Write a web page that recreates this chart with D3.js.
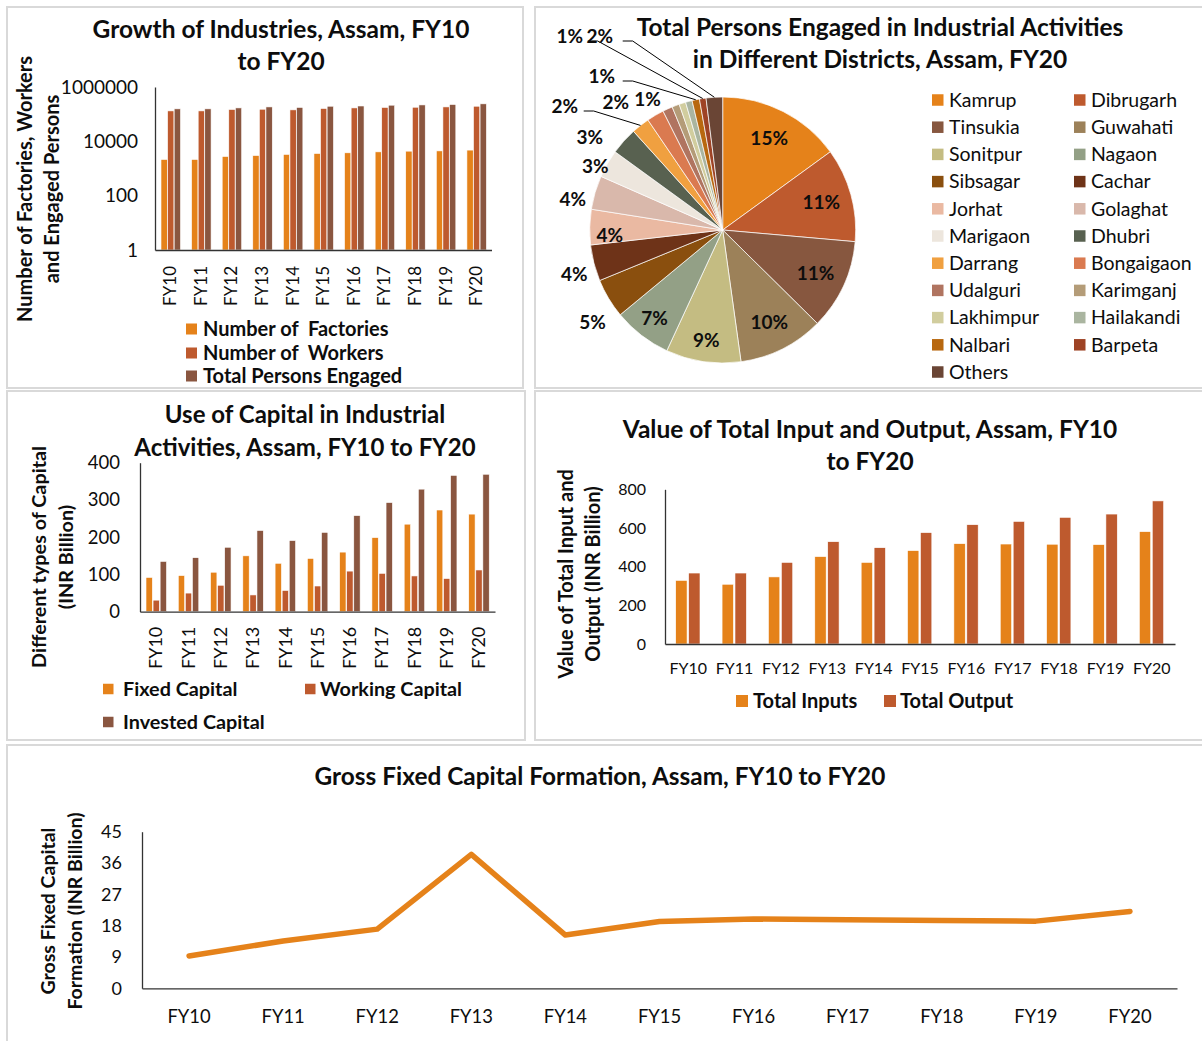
<!DOCTYPE html>
<html>
<head>
<meta charset="utf-8">
<script src="https://cdn.jsdelivr.net/npm/d3@7"></script>
<style>
    body { margin: 0; background: #fff; }
    svg text { font-family: Lato, "Open Sans", sans-serif; fill: #0d0d0d; }
</style>
</head>
<body>
<svg id="chart" width="1202" height="1041"></svg>
<script>

// ---- data ----
var years = ["FY10", "FY11", "FY12", "FY13", "FY14", "FY15", "FY16", "FY17", "FY18", "FY19", "FY20"];

var factories = [2150, 2150, 2770, 3000, 3300, 3570, 3780, 4100, 4350, 4450, 4760];
var workers = [132000, 132000, 149000, 152000, 144000, 162000, 170000, 177000, 180000, 185000, 196000];
var personsEngaged = [157000, 157000, 170000, 185000, 177000, 196000, 200000, 214000, 219000, 227000, 240000];
var logTicks = [1, 100, 10000, 1000000];

var districts = ["Kamrup", "Dibrugarh", "Tinsukia", "Guwahati", "Sonitpur", "Nagaon", "Sibsagar", "Cachar",
    "Jorhat", "Golaghat", "Marigaon", "Dhubri", "Darrang", "Bongaigaon", "Udalguri", "Karimganj",
    "Lakhimpur", "Hailakandi", "Nalbari", "Barpeta", "Others"];
var districtShare = [15.0, 11.4, 11.0, 10.4, 9.1, 7.1, 4.8, 4.4, 4.3, 4.1, 3.4, 3.3, 2.2, 2.1, 1.2, 0.9,
    0.8, 0.8, 0.9, 0.8, 2.0];

var fixedCapital = [92, 97, 106, 150, 130, 143, 160, 199, 235, 273, 262];
var workingCapital = [31, 50, 71, 45, 57, 69, 109, 103, 96, 89, 112];
var investedCapital = [135, 145, 173, 218, 191, 213, 258, 293, 329, 366, 369];
var capitalTicks = [0, 100, 200, 300, 400];

var totalInputs = [329, 309, 347, 452, 422, 483, 519, 517, 516, 514, 581];
var totalOutput = [367, 367, 422, 529, 498, 576, 617, 634, 655, 672, 740];
var ioTicks = [0, 200, 400, 600, 800];

var gfcf = [9.3, 13.6, 17.0, 38.5, 15.3, 19.2, 19.9, 19.7, 19.5, 19.3, 22.1];
var gfcfTicks = [0, 9, 18, 27, 36, 45];

// ---- colours ----
var orange = "#e5821a", rust = "#be5a2e", brown = "#8a5640";
var districtColors = ["#e5821a", "#be5a2e", "#87573f", "#9c8159", "#c4bc82", "#93a086", "#8a4f0e", "#6e3318",
    "#eab9a2", "#d9b8ab", "#ede6dd", "#586150", "#f0a040", "#da7a50", "#b07460", "#b49c78",
    "#d1cd9e", "#aab5a0", "#b8680f", "#9e4325", "#6a4535"];

var svg = d3.select("#chart");

function drawPanel(x, y, w, h) {
    svg.append("rect")
        .attr("x", x).attr("y", y)
        .attr("width", w).attr("height", h)
        .attr("fill", "#fff")
        .attr("stroke", "#d9d9d9")
        .attr("stroke-width", 2);
}

function addTitle(lines, cx, y0, gap, size) {
    lines.forEach(function (t, i) {
        svg.append("text")
            .attr("x", cx).attr("y", y0 + i * gap)
            .attr("dy", "0.35em")
            .attr("text-anchor", "middle")
            .style("font-size", size + "px")
            .style("font-weight", "bold")
            .text(t);
    });
}

function addYTitle(lines, xs, cy, size) {
    lines.forEach(function (t, i) {
        svg.append("text")
            .attr("transform", "translate(" + xs[i] + "," + cy + ") rotate(-90)")
            .attr("dy", "0.35em")
            .attr("text-anchor", "middle")
            .style("font-size", size + "px")
            .style("font-weight", "bold")
            .text(t);
    });
}

function addLegend(items, size, font) {
    items.forEach(function (d) {
        svg.append("rect")
            .attr("x", d.x).attr("y", d.y - size / 2)
            .attr("width", size).attr("height", size)
            .attr("fill", d.color);
        svg.append("text")
            .attr("x", d.x + d.gap).attr("y", d.y)
            .attr("dy", "0.35em")
            .style("font-size", font.size + "px")
            .style("font-weight", font.weight)
            .style("white-space", "pre")
            .text(d.label);
    });
}

function leftAxis(y, x, ticks, fontSize, pad) {
    var g = svg.append("g")
        .attr("transform", "translate(" + x + ",0)")
        .call(d3.axisLeft(y).tickValues(ticks).tickSize(0).tickPadding(pad).tickFormat(d3.format("d")));
    g.select(".domain").attr("stroke", "#333").attr("stroke-width", 1.3);
    g.selectAll("text").style("font-size", fontSize + "px").style("font-family", null).attr("fill", null);
    return g;
}

function bottomAxis(x, y, fontSize, pad, rotate) {
    var g = svg.append("g")
        .attr("transform", "translate(0," + y + ")")
        .call(d3.axisBottom(x).tickSize(0).tickSizeOuter(0));
    g.select(".domain").attr("stroke", "#333").attr("stroke-width", 1.3);
    var t = g.selectAll("text").style("font-size", fontSize + "px").style("font-family", null).attr("fill", null);
    if (rotate) {
        t.attr("transform", "rotate(-90)")
            .attr("text-anchor", "end")
            .attr("x", -pad).attr("y", 0)
            .attr("dy", "0.35em");
    } else {
        t.attr("y", pad).attr("dy", "0.35em");
    }
    return g;
}

function groupedBars(x, y, series, inner) {
    series.forEach(function (s, k) {
        svg.append("g").selectAll("rect")
            .data(s.values)
            .enter().append("rect")
            .attr("x", function (d, i) { return x(years[i]) + inner(k); })
            .attr("y", function (d) { return y(d); })
            .attr("width", inner.bandwidth())
            .attr("height", function (d) { return y.range()[0] - y(d); })
            .attr("fill", s.color)
            .attr("stroke", "#fff")
            .attr("stroke-width", 0.6);
    });
}

// ---- panels ----
drawPanel(7, 7, 516, 381);
drawPanel(535, 7, 680, 381);
drawPanel(7, 391, 518, 349);
drawPanel(535, 391, 680, 349);
drawPanel(7, 745, 1210, 310);

// ---- 1. growth of industries (log scale) ----
(function () {
    var x = d3.scaleBand().domain(years).range([155, 491.5]);
    var y = d3.scaleLog().domain([1, 1000000]).range([250, 87]);
    var inner = d3.scaleBand().domain([0, 1, 2]).range([6, 25.5]).paddingInner(0.04);

    addTitle(["Growth of Industries, Assam, FY10", "to FY20"], 281, 29, 32, 24.5);
    groupedBars(x, y, [
        { values: factories, color: orange },
        { values: workers, color: rust },
        { values: personsEngaged, color: brown }
    ], inner);
    leftAxis(y, 155, logTicks, 19, 17);
    bottomAxis(x, 250, 17, 16, true);
    addYTitle(["Number of Factories, Workers", "and Engaged Persons"], [25, 52], 189, 20);
    addLegend([
        { x: 186, y: 329, gap: 17, color: orange, label: "Number of  Factories" },
        { x: 186, y: 353, gap: 17, color: rust, label: "Number of  Workers" },
        { x: 186, y: 376, gap: 17, color: brown, label: "Total Persons Engaged" }
    ], 11, { size: 20, weight: "bold" });
})();

// ---- 2. district pie ----
(function () {
    var cx = 722.7, cy = 230, r = 133;
    var total = d3.sum(districtShare);
    var pie = d3.pie().sort(null).value(function (d) { return d; });
    var arcs = pie(districtShare);
    var arc = d3.arc().innerRadius(0).outerRadius(r);

    addTitle(["Total Persons Engaged in Industrial Activities", "in Different Districts, Assam, FY20"], 880, 27, 32, 24.5);

    var g = svg.append("g").attr("transform", "translate(" + cx + "," + cy + ")");
    g.selectAll("path")
        .data(arcs)
        .enter().append("path")
        .attr("d", arc)
        .attr("fill", function (d, i) { return districtColors[i]; })
        .attr("stroke", "#fff")
        .attr("stroke-width", 0.7);

    // where each label sits (Excel "best fit" placement)
    var place = {
        Kamrup: { k: 0.77 }, Dibrugarh: { k: 0.77 }, Tinsukia: { k: 0.77 }, Guwahati: { k: 0.78 },
        Sonitpur: { k: 0.84 }, Nagaon: { k: 0.84 }, Jorhat: { k: 0.85, da: -4 },
        Sibsagar: { k: 1.2, da: -4.4 }, Cachar: { k: 1.165, da: -2.4 }, Golaghat: { k: 1.15, da: -5 },
        Marigaon: { k: 1.07, da: -3.5 }, Dhubri: { k: 1.22, da: -7 }, Bongaigaon: { k: 1.25, da: -9.6 },
        Udalguri: { k: 1.13, da: -5.5 },
        Darrang: { lx: -158, ly: -124, ex: -129 },
        Nalbari: { lx: -121, ly: -154, ex: -90 },
        Barpeta: { lx: -153, ly: -194, ex: -125 },
        Others: { lx: -123, ly: -194, ex: -90 }
    };

    arcs.forEach(function (d, i) {
        var p = place[districts[i]];
        if (!p) return;
        var label = Math.round(d.value / total * 100) + "%";
        var mid = (d.startAngle + d.endAngle) / 2;
        var lx, ly;
        if (p.k) {
            var a = mid + (p.da || 0) * Math.PI / 180;
            lx = Math.sin(a) * r * p.k;
            ly = -Math.cos(a) * r * p.k;
        } else {
            lx = p.lx;
            ly = p.ly;
            var ax = Math.sin(mid) * r, ay = -Math.cos(mid) * r;
            g.append("polyline")
                .attr("points", [[p.ex - 10, ly + 5], [p.ex, ly + 5], [ax, ay]].map(function (q) { return q.join(","); }).join(" "))
                .attr("fill", "none")
                .attr("stroke", "#000")
                .attr("stroke-width", 1);
        }
        g.append("text")
            .attr("x", lx).attr("y", ly)
            .attr("dy", "0.35em")
            .attr("text-anchor", "middle")
            .style("font-size", "19px")
            .style("font-weight", "bold")
            .text(label);
    });

    var items = districts.map(function (name, i) {
        return {
            x: i % 2 === 0 ? 932 : 1074,
            y: 100 + Math.floor(i / 2) * 27.2,
            gap: 17,
            color: districtColors[i],
            label: name
        };
    });
    addLegend(items, 11.5, { size: 19.5, weight: "normal" });
})();

// ---- 3. use of capital ----
(function () {
    var x = d3.scaleBand().domain(years).range([140, 495]);
    var y = d3.scaleLinear().domain([0, 400]).range([611.7, 462.7]);
    var inner = d3.scaleBand().domain([0, 1, 2]).range([6, 26.5]).paddingInner(0.1);

    addTitle(["Use of Capital in Industrial", "Activities, Assam, FY10 to FY20"], 305, 415, 33, 24);
    groupedBars(x, y, [
        { values: fixedCapital, color: orange },
        { values: workingCapital, color: rust },
        { values: investedCapital, color: brown }
    ], inner);
    leftAxis(y, 140, capitalTicks, 18.5, 20);
    bottomAxis(x, 611.7, 18, 15, true);
    addYTitle(["Different types of Capital", "(INR Billion)"], [39, 66], 557, 19.8);
    addLegend([
        { x: 103, y: 689, gap: 20, color: orange, label: "Fixed Capital" },
        { x: 305, y: 689, gap: 15, color: rust, label: "Working Capital" },
        { x: 103, y: 722, gap: 20, color: brown, label: "Invested Capital" }
    ], 10.5, { size: 19.8, weight: "bold" });
})();

// ---- 4. total input and output ----
(function () {
    var x = d3.scaleBand().domain(years).range([665, 1175]);
    var y = d3.scaleLinear().domain([0, 800]).range([644, 489.3]);
    var inner = d3.scaleBand().domain([0, 1]).range([10.7, 35]).paddingInner(0.12);

    addTitle(["Value of Total Input and Output, Assam, FY10", "to FY20"], 870, 429, 32, 24.5);
    groupedBars(x, y, [
        { values: totalInputs, color: orange },
        { values: totalOutput, color: rust }
    ], inner);
    leftAxis(y, 665, ioTicks, 16, 19);
    bottomAxis(x, 644, 16, 24, false);
    addYTitle(["Value of Total Input and", "Output (INR Billion)"], [566, 593], 574, 20);
    addLegend([
        { x: 736, y: 701, gap: 17, color: orange, label: "Total Inputs" },
        { x: 884, y: 701, gap: 16, color: rust, label: "Total Output" }
    ], 12, { size: 20, weight: "bold" });
})();

// ---- 5. gross fixed capital formation ----
(function () {
    var x = d3.scaleBand().domain(years).range([142, 1177]);
    var y = d3.scaleLinear().domain([0, 45]).range([988.3, 831.7]);

    addTitle(["Gross Fixed Capital Formation, Assam, FY10 to FY20"], 600, 776, 32, 24.4);

    var line = d3.line()
        .x(function (d, i) { return x(years[i]) + x.bandwidth() / 2; })
        .y(function (d) { return y(d); });

    svg.append("path")
        .datum(gfcf)
        .attr("d", line)
        .attr("fill", "none")
        .attr("stroke", orange)
        .attr("stroke-width", 5.5)
        .attr("stroke-linejoin", "round")
        .attr("stroke-linecap", "round");

    leftAxis(y, 142, gfcfTicks, 18, 20);
    bottomAxis(x, 988.3, 18.4, 28, false);
    addYTitle(["Gross Fixed Capital", "Formation (INR Billion)"], [48, 75], 911, 19.5);
})();

</script>
</body>
</html>
